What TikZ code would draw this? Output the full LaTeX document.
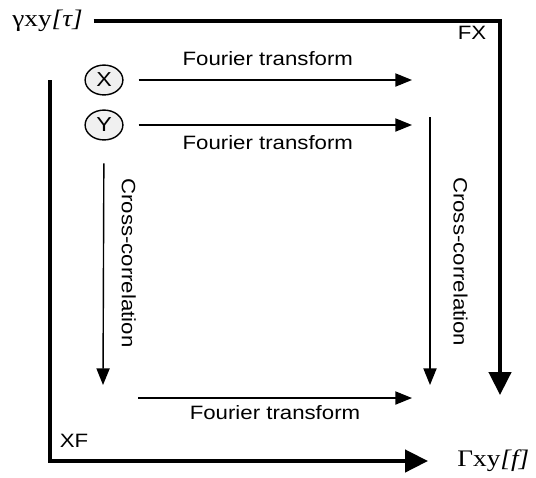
\documentclass[tikz,border=0pt]{standalone}
\usepackage{fontspec}
\setmainfont{Liberation Sans}[FakeStretch=1.15]
\newfontfamily\symfont{Liberation Serif}[FakeStretch=1.15]
\usepackage{tikz}
\usetikzlibrary{arrows.meta,shapes.geometric,positioning,calc}

\begin{document}
\begin{tikzpicture}[
  x=0.02cm,y=-0.02cm,
  lbl/.style={font=\fontsize{11}{13}\selectfont,inner sep=0pt},
  sig/.style={ellipse,draw,line width=0.8pt,fill=gray!12,minimum width=21.5pt,minimum height=17pt,inner sep=0pt,font=\fontsize{11.5}{13}\selectfont},
  spec/.style={font=\symfont\fontsize{13.5}{15}\selectfont,inner sep=0pt},
  fline/.style={-{Triangle[length=9.5pt,width=7.5pt]},line width=0.8pt},
  bigline/.style={-{Triangle[length=13pt,width=12.5pt]},line width=2.3pt}
]
  \useasboundingbox (0,0) rectangle (536,477);

  \node[spec,anchor=west] (gam) at (12,21) {γxy\textit{[τ]}};
  \node[spec,anchor=west] (Gam) at (457,461) {Γxy\textit{[f]}};
  \node[sig] (X) at (104,80) {X};
  \node[sig] (Y) at (104,125) {Y};
  \node[lbl] (fx) at (472,33) {FX};
  \node[lbl] (xf) at (74,441) {XF};

  \coordinate (xend) at (412,80);
  \coordinate (yend) at (412,125);
  \coordinate (ccl) at (103,385);
  \coordinate (ccr0) at (430,117);
  \coordinate (ccr1) at (430,385);
  \coordinate (ft0) at (138,398);
  \coordinate (ft1) at (412,398);
  \coordinate (fxend) at (500,395);
  \coordinate (xf0) at (50,80);

  \draw[fline,shorten <=8.5pt] (X) -- (xend) node[lbl,midway,above=7.5pt] {Fourier transform};
  \draw[fline,shorten <=8.5pt] (Y) -- (yend) node[lbl,midway,below=5.5pt] {Fourier transform};
  \draw[fline,shorten <=13pt] (Y) -- (ccl) node[lbl,pos=0.5,right=10pt,rotate=-90,anchor=south] {Cross-correlation};
  \draw[fline] (ccr0) -- (ccr1) node[lbl,pos=0.54,right=13pt,rotate=-90,anchor=south] {Cross-correlation};
  \draw[fline] (ft0) -- (ft1) node[lbl,midway,below=4pt] {Fourier transform};
  \draw[bigline,shorten <=6pt] (gam.east) -| (fxend);
  \draw[bigline,shorten >=16.5pt] (xf0) |- (Gam.west);
\end{tikzpicture}
\end{document}
